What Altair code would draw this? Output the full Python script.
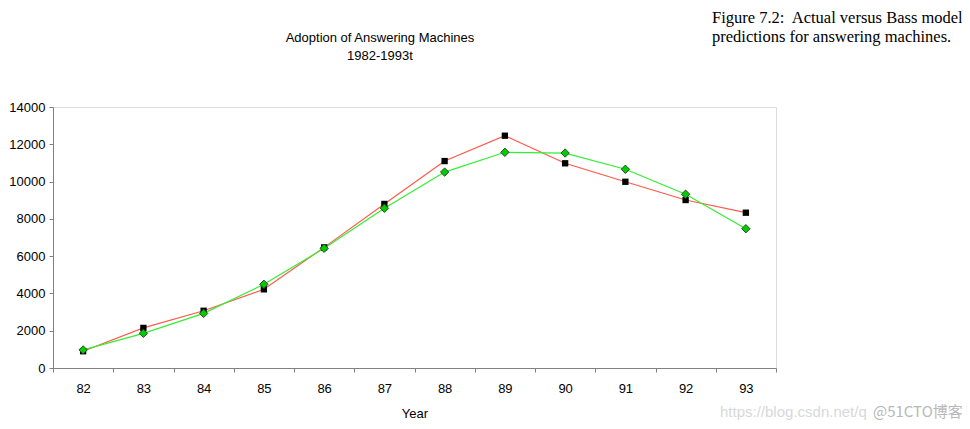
import altair as alt
import pandas as pd

years = ["82", "83", "84", "85", "86", "87", "88", "89", "90", "91", "92", "93"]
actual = [900, 2150, 3070, 4220, 6470, 8800, 11100, 12460, 10980, 9990, 9010, 8330]
predicted = [970, 1860, 2930, 4490, 6420, 8570, 10510, 11570, 11530, 10660, 9320, 7470]
y_ticks = [0, 2000, 4000, 6000, 8000, 10000, 12000, 14000]

title_lines = ["Adoption of Answering Machines", "1982-1993t"]
caption_lines = ["Figure 7.2:\u00a0 Actual versus Bass model", "predictions for answering machines."]
watermark = ["https://blog.csdn.net/q", "@51CTO博客"]

df = pd.DataFrame({
    "year": years * 2,
    "value": actual + predicted,
    "series": ["Actual"] * len(years) + ["Predicted"] * len(years),
})

FONT = "Liberation Sans"

x_enc = alt.X(
    "year:O",
    sort=years,
    scale=alt.Scale(type="band", paddingInner=0, paddingOuter=0),
    axis=alt.Axis(
        title="Year", labelAngle=0, tickBand="extent", tickSize=4,
        labelPadding=10, titlePadding=12, labelFont=FONT, titleFont=FONT,
        labelFontSize=13, titleFontSize=13, titleFontWeight="normal",
        labelColor="#000", titleColor="#000",
        domainColor="#808080", tickColor="#808080", grid=False,
    ),
)
y_enc = alt.Y(
    "value:Q",
    scale=alt.Scale(domain=[0, 14000], nice=False, zero=True),
    axis=alt.Axis(
        title=None, values=y_ticks, format="d", tickSize=4, labelPadding=4,
        labelFont=FONT, labelFontSize=13, labelColor="#000",
        domainColor="#808080", tickColor="#808080", grid=False,
    ),
)

base = alt.Chart(df).encode(x=x_enc, y=y_enc)

red_line = base.transform_filter(alt.datum.series == "Actual").mark_line(
    color="#ff5a4a", strokeWidth=1.2)
green_line = base.transform_filter(alt.datum.series == "Predicted").mark_line(
    color="#33ee33", strokeWidth=1.2)
squares = base.transform_filter(alt.datum.series == "Actual").mark_point(
    shape="square", filled=True, color="#000000", size=40, opacity=1)
diamonds = base.transform_filter(alt.datum.series == "Predicted").mark_point(
    shape="diamond", filled=True, fill="#00cc00", stroke="#2a4a2a",
    strokeWidth=1, size=70, opacity=1)


def text_layer(txt, x, y, size, font, color="#000", align="center", baseline="middle"):
    return alt.Chart(pd.DataFrame({"t": [txt]})).mark_text(
        align=align, baseline=baseline, fontSize=size, font=font, color=color
    ).encode(text="t:N", x=alt.value(x), y=alt.value(y))


texts = [
    text_layer(title_lines[0], 327, -69, 13, FONT),
    text_layer(title_lines[1], 327, -51, 13, FONT),
    text_layer(caption_lines[0], 659, -97, 16.5, "Liberation Serif", align="left", baseline="top"),
    text_layer(caption_lines[1], 659, -78, 16.5, "Liberation Serif", align="left", baseline="top"),
    text_layer(watermark[0], 667, 305, 15, FONT, color="#d8d8d8", align="left"),
    text_layer(watermark[1], 820, 305, 15, "Noto Sans CJK SC", color="#b8b8b8", align="left"),
]

chart = alt.layer(red_line, green_line, squares, diamonds, *texts).properties(
    width=723,
    height=261,
    autosize=alt.AutoSizeParams(type="none"),
    padding={"left": 45, "top": 99, "right": 186, "bottom": 53},
).configure_view(stroke="#808080", strokeWidth=1).configure(background="white")

chart.save("out.html", embed_options={"renderer": "svg", "actions": False})
